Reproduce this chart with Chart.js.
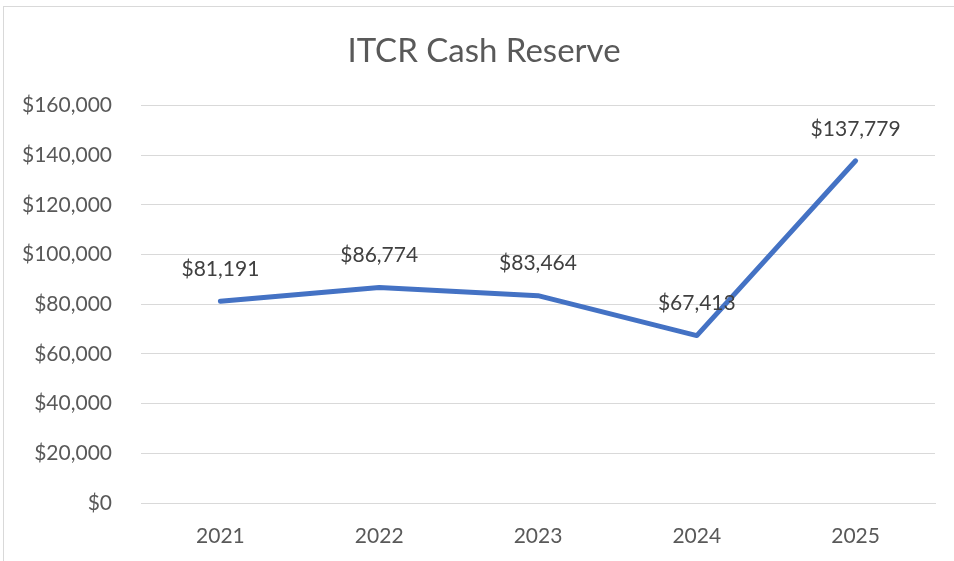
<!DOCTYPE html>
<html>
<head>
<meta charset="utf-8">
<title>ITCR Cash Reserve</title>
<script src="https://cdn.jsdelivr.net/npm/chart.js@4/dist/chart.umd.min.js"></script>
<style>
  html, body { margin: 0; padding: 0; background: #fff; }
  #wrap { width: 954px; height: 561px; position: relative; }
</style>
</head>
<body>
<div id="wrap"><canvas id="chart"></canvas></div>
<script>
// chart data
const years = ['2021', '2022', '2023', '2024', '2025'];
const cashReserve = [81191, 86774, 83464, 67413, 137779];
const yTicks = [0, 20000, 40000, 60000, 80000, 100000, 120000, 140000, 160000];

const FONT = 'Lato, "Open Sans", sans-serif';
const money = v => '$' + Math.round(v).toLocaleString('en-US');

// light outer frame like the Excel chart border
const framePlugin = {
  id: 'frame',
  beforeDraw(chart) {
    const ctx = chart.ctx;
    ctx.save();
    ctx.strokeStyle = '#d9d9d9';
    ctx.lineWidth = 1;
    ctx.strokeRect(3.5, 6.5, chart.width + 10, chart.height + 10);
    ctx.restore();
  }
};

// value labels above each point
const valueLabels = {
  id: 'valueLabels',
  afterDatasetsDraw(chart) {
    const ctx = chart.ctx;
    const meta = chart.getDatasetMeta(0);
    ctx.save();
    ctx.font = '21px ' + FONT;
    ctx.fillStyle = '#404040';
    ctx.textAlign = 'center';
    ctx.textBaseline = 'middle';
    meta.data.forEach((pt, i) => {
      ctx.fillText(money(cashReserve[i]), pt.x, pt.y - 32);
    });
    ctx.restore();
  }
};

new Chart(document.getElementById('chart'), {
  type: 'line',
  data: {
    labels: years,
    datasets: [{
      label: 'Cash Reserve',
      data: cashReserve,
      borderColor: '#4472c4',
      borderWidth: 5,
      borderCapStyle: 'round',
      borderJoinStyle: 'round',
      pointRadius: 0,
      tension: 0,
      fill: false
    }]
  },
  options: {
    responsive: true,
    maintainAspectRatio: false,
    animation: false,
    // padding offsets the title centre to match the original frame
    layout: { padding: { left: 19, right: 5, top: 0, bottom: 0 } },
    plugins: {
      legend: { display: false },
      tooltip: { enabled: false },
      title: {
        display: true,
        text: 'ITCR Cash Reserve',
        color: '#595959',
        font: { family: FONT, size: 33, weight: 'normal' },
        padding: { top: 32, bottom: 34 }
      }
    },
    scales: {
      x: {
        offset: true,
        grid: { display: false, drawTicks: false },
        border: { display: true, color: '#d9d9d9', width: 1 },
        ticks: { color: '#595959', font: { family: FONT, size: 21 }, padding: 21 },
        afterFit(scale) { scale.height = 58; }
      },
      y: {
        min: 0,
        max: 160000,
        afterBuildTicks(scale) { scale.ticks = yTicks.map(v => ({ value: v })); },
        grid: { color: '#d9d9d9', lineWidth: 1, drawTicks: false },
        border: { display: false },
        ticks: {
          color: '#595959',
          font: { family: FONT, size: 21 },
          padding: 29,
          callback: v => money(v)
        },
        afterFit(scale) { scale.width = 122; }
      },
      // empty right-hand spacer so the plot ends where the original does
      spacer: {
        type: 'linear',
        position: 'right',
        grid: { display: false, drawTicks: false },
        border: { display: false },
        ticks: { display: false },
        afterFit(scale) { scale.width = 14; }
      }
    }
  },
  plugins: [framePlugin, valueLabels]
});
</script>
</body>
</html>
